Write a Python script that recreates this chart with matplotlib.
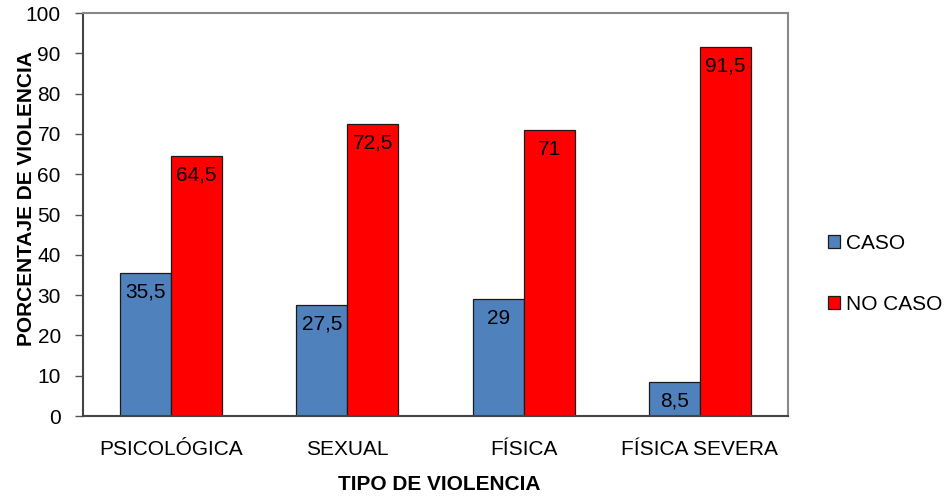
import matplotlib
matplotlib.use("Agg")
import matplotlib.pyplot as plt
import numpy as np

categories = ["PSICOLÓGICA", "SEXUAL", "FÍSICA", "FÍSICA SEVERA"]
caso = [35.5, 27.5, 29, 8.5]
no_caso = [64.5, 72.5, 71, 91.5]
caso_labels = ["35,5", "27,5", "29", "8,5"]
no_caso_labels = ["64,5", "72,5", "71", "91,5"]
series_names = ["CASO", "NO CASO"]
yticks = list(range(0, 101, 10))

plt.rcParams['font.family'] = ['Liberation Sans', 'DejaVu Sans']

fig = plt.figure(figsize=(9.45, 4.97), dpi=100)
ax = fig.add_axes([83/945, 1-416/497, (788-83)/945, (416-13)/497])

x = np.arange(len(categories))
w = 0.29
b1 = ax.bar(x - w/2, caso, w, color="#4F81BD", edgecolor="#1a1a1a", linewidth=0.9, label=series_names[0])
b2 = ax.bar(x + w/2, no_caso, w, color="#FF0000", edgecolor="#1a1a1a", linewidth=0.9, label=series_names[1])

for bars, labs in ((b1, caso_labels), (b2, no_caso_labels)):
    for r, t in zip(bars, labs):
        ax.annotate(t, (r.get_x() + r.get_width()/2, r.get_height()),
                    xytext=(0, -7), textcoords="offset points",
                    ha="center", va="top", fontsize=15, color="black")

ax.set_xlim(-0.5, len(categories) - 0.5)
ax.set_ylim(0, 100)
ax.set_yticks(yticks)
ax.set_xticks(x)
ax.set_xticklabels(categories, fontsize=15)
ax.tick_params(axis='y', labelsize=15, length=6, width=1, color="#555555", pad=10)
ax.tick_params(axis='x', length=0, pad=17)

for s in ("top", "right"):
    ax.spines[s].set_color("#888888")
    ax.spines[s].set_linewidth(1.5)
for s in ("left", "bottom"):
    ax.spines[s].set_color("#444444")
    ax.spines[s].set_linewidth(1.5)

ax.set_ylabel("PORCENTAJE DE VIOLENCIA", fontsize=15, fontweight="bold")
ax.yaxis.set_label_coords((36-83)/705, 0.54)
ax.set_xlabel("TIPO DE VIOLENCIA", fontsize=15, fontweight="bold")
ax.xaxis.set_label_coords(0.505, -(475-416)/403)

fig.legend(handles=[b1, b2], labels=series_names, loc="center left",
           bbox_to_anchor=(809/945, 1-274/497), frameon=False, fontsize=15,
           handlelength=0.6, handleheight=0.6, handletextpad=0.3, labelspacing=2.0)

fig.savefig("out.png", dpi=100)
